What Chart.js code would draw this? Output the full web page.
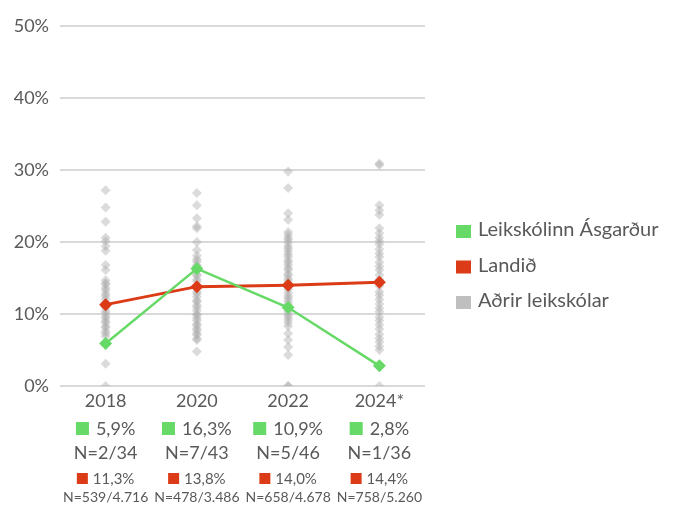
<!DOCTYPE html>
<html>
<head>
<meta charset="utf-8">
<script src="https://cdn.jsdelivr.net/npm/chart.js@4/dist/chart.umd.min.js"></script>
<style>
  html, body { margin: 0; padding: 0; background: #fff; }
  #wrap { width: 674px; height: 505px; position: relative; }
</style>
</head>
<body>
<div id="wrap"><canvas id="myChart"></canvas></div>
<script>
// ártöl
const years = ['2018', '2020', '2022', '2024*'];
// Leikskólinn Ásgarður
const skoliValues = [5.9, 16.3, 10.9, 2.8];
const skoliN = ['N=2/34', 'N=7/43', 'N=5/46', 'N=1/36'];
// Landið
const landValues = [11.3, 13.8, 14.0, 14.4];
const landN = ['N=539/4.716', 'N=478/3.486', 'N=658/4.678', 'N=758/5.260'];
// Aðrir leikskólar (lesið af myndinni)
const adrir2018 = [27.2, 24.8, 22.8, 20.6, 20.1, 19.4, 18.8, 16.8, 16.1, 14.7, 14.3, 14.1, 13.6, 13.3,
  12.8, 12.5, 12.1, 11.6, 11.2, 10.9, 10.4, 10.1, 9.7, 9.4, 9.0, 8.8, 8.3, 8.1, 7.6, 7.3, 6.9, 3.1, 0];
const adrir2020 = [26.8, 25.1, 23.3, 22.2, 21.9, 20.0, 18.9, 18.1, 17.6, 17.3, 16.8, 16.6, 16.0, 15.5,
  15.3, 14.8, 14.5, 13.9, 13.6, 13.1, 12.8, 12.4, 11.9, 11.7, 11.2, 10.9, 10.5, 10.0, 9.8, 9.4, 9.1,
  8.6, 8.4, 8.0, 7.7, 7.3, 7.1, 6.6, 6.4, 4.8];
const adrir2022 = [29.8, 27.5, 24.0, 23.1, 21.4, 21.0, 20.6, 20.3, 19.9, 19.4, 19.1, 18.7, 18.3, 18.0,
  17.5, 17.2, 16.8, 16.4, 16.1, 15.6, 15.3, 14.9, 14.6, 14.2, 13.7, 13.4, 12.9, 12.5, 12.2, 11.8,
  11.4, 11.0, 10.7, 10.3, 9.9, 9.6, 9.2, 8.8, 8.3, 7.3, 6.4, 5.4, 4.3, 0, 0];
const adrir2024 = [30.9, 30.7, 25.1, 24.4, 23.8, 21.9, 21.2, 20.6, 20.1, 19.7, 19.0, 18.4, 17.9, 17.2,
  16.6, 16.1, 15.4, 14.8, 13.9, 13.1, 12.6, 12.0, 11.4, 10.8, 10.3, 9.6, 9.1, 8.5, 7.9, 7.2, 6.6,
  6.1, 5.5, 5.0, 0];
const adrir = [adrir2018, adrir2020, adrir2022, adrir2024];

const GREEN = '#66d966';
const RED = '#dc3b17';
const GREY = '#bfbfbf';
const TEXT = '#595959';
const FONT = 'Lato, "Open Sans", sans-serif';

// punktar fyrir aðra leikskóla
const adrirPoints = [];
adrir.forEach(function (list, i) {
  list.forEach(function (v) { adrirPoints.push({ x: years[i], y: v }); });
});

// texti og reitir undir x-ás og skýringar til hægri
const extraText = {
  id: 'extraText',
  afterDraw: function (chart) {
    const ctx = chart.ctx;
    const xs = chart.scales.x;
    ctx.save();
    ctx.fillStyle = TEXT;
    ctx.textBaseline = 'middle';
    years.forEach(function (y, i) {
      const cx = xs.getPixelForValue(i);
      // röð 1: grænn reitur + hlutfall
      ctx.font = '18px ' + FONT;
      let t = skoliValues[i].toFixed(1).replace('.', ',') + '%';
      let w = ctx.measureText(t).width;
      let total = 13 + 7 + w;
      let x0 = cx - total / 2;
      ctx.fillStyle = GREEN;
      ctx.fillRect(x0, 422, 13, 13);
      ctx.fillStyle = TEXT;
      ctx.textAlign = 'left';
      ctx.fillText(t, x0 + 20, 429);
      // röð 2
      ctx.textAlign = 'center';
      ctx.fillText(skoliN[i], cx, 453);
      // röð 3: rauður reitur + hlutfall
      ctx.font = '15px ' + FONT;
      t = landValues[i].toFixed(1).replace('.', ',') + '%';
      w = ctx.measureText(t).width;
      total = 11 + 5 + w;
      x0 = cx - total / 2;
      ctx.fillStyle = RED;
      ctx.fillRect(x0, 473, 11, 11);
      ctx.fillStyle = TEXT;
      ctx.textAlign = 'left';
      ctx.fillText(t, x0 + 16, 479);
      // röð 4
      ctx.font = '14px ' + FONT;
      ctx.textAlign = 'center';
      ctx.fillText(landN[i], cx, 497);
    });

    // skýringar
    const items = [
      ['Leikskólinn Ásgarður', GREEN],
      ['Landið', RED],
      ['Aðrir leikskólar', GREY]
    ];
    ctx.font = '20px ' + FONT;
    ctx.textAlign = 'left';
    items.forEach(function (it, i) {
      const yc = 231 + i * 35.5;
      ctx.fillStyle = it[1];
      ctx.fillRect(456, yc - 6, 15, 13);
      ctx.fillStyle = TEXT;
      ctx.fillText(it[0], 478, yc - 1);
    });
    ctx.restore();
  }
};

const ctx = document.getElementById('myChart').getContext('2d');
const myChart = new Chart(ctx, {
  type: 'line',
  data: {
    labels: years,
    datasets: [
      {
        label: 'Leikskólinn Ásgarður',
        data: skoliValues,
        borderColor: GREEN,
        backgroundColor: GREEN,
        borderWidth: 2.5,
        pointStyle: 'rectRot',
        pointRadius: 6.5,
        pointBorderWidth: 0,
        tension: 0
      },
      {
        label: 'Landið',
        data: landValues,
        borderColor: RED,
        backgroundColor: RED,
        borderWidth: 3,
        pointStyle: 'rectRot',
        pointRadius: 6.5,
        pointBorderWidth: 0,
        tension: 0
      },
      {
        label: 'Aðrir leikskólar',
        data: adrirPoints,
        showLine: false,
        backgroundColor: 'rgba(170,170,170,0.42)',
        borderColor: 'rgba(170,170,170,0)',
        pointStyle: 'rectRot',
        pointRadius: 5,
        pointBorderWidth: 0
      }
    ]
  },
  options: {
    responsive: true,
    maintainAspectRatio: false,
    animation: false,
    layout: { padding: { left: 0, right: 249, top: 26, bottom: 0 } },
    plugins: {
      legend: { display: false },
      tooltip: { enabled: false }
    },
    scales: {
      x: {
        offset: true,
        grid: { display: false, drawTicks: false },
        border: { display: false },
        ticks: { color: TEXT, font: { family: FONT, size: 18 }, padding: 4 },
        afterFit: function (s) { s.height = 119; }
      },
      y: {
        min: 0,
        max: 50,
        grid: { color: '#d9d9d9', lineWidth: 2, drawTicks: false },
        border: { display: false },
        ticks: {
          stepSize: 10,
          color: TEXT,
          padding: 11,
          font: { family: FONT, size: 18 },
          callback: function (v) { return v + '%'; }
        },
        afterFit: function (s) { s.width = 60; }
      }
    }
  },
  plugins: [extraText]
});
</script>
</body>
</html>
